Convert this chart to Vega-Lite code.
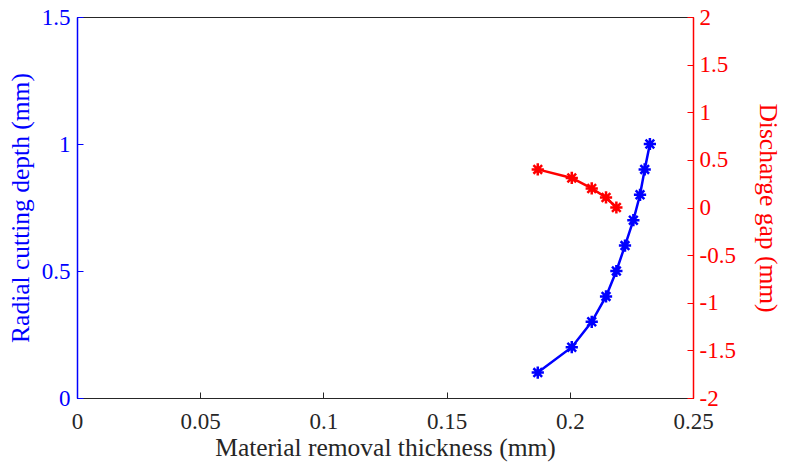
{
  "$schema": "https://vega.github.io/schema/vega-lite/v6.json",
  "width": 616,
  "height": 381,
  "autosize": "none",
  "padding": {"left": 77, "top": 17, "right": 94, "bottom": 70},
  "background": "white",
  "config": {
    "font": "Liberation Serif, Times New Roman, serif",
    "view": {"stroke": "#262626", "strokeWidth": 1},
    "axis": {"grid": false, "labelFont": "Liberation Serif, Times New Roman, serif", "titleFont": "Liberation Serif, Times New Roman, serif", "labelFontSize": 23, "titleFontSize": 25.5, "titleFontWeight": "normal", "tickSize": -6, "labelPadding": 10, "labelFlush": false}
  },
  "datasets": {
    "depth": [
      {"thickness": 0.187, "depth": 0.1},
      {"thickness": 0.2008, "depth": 0.2},
      {"thickness": 0.2089, "depth": 0.3},
      {"thickness": 0.2147, "depth": 0.4},
      {"thickness": 0.2189, "depth": 0.5},
      {"thickness": 0.2224, "depth": 0.6},
      {"thickness": 0.2258, "depth": 0.7},
      {"thickness": 0.2285, "depth": 0.8},
      {"thickness": 0.2304, "depth": 0.9},
      {"thickness": 0.2325, "depth": 1.0}
    ],
    "gap": [
      {"thickness": 0.187, "gap": 0.4},
      {"thickness": 0.2008, "gap": 0.31},
      {"thickness": 0.2089, "gap": 0.2},
      {"thickness": 0.2147, "gap": 0.105},
      {"thickness": 0.2189, "gap": 0.0}
    ]
  },
  "layer": [
    {
      "data": {"name": "depth"},
      "encoding": {
        "x": {"field": "thickness", "type": "quantitative", "scale": {"domain": [0, 0.25], "nice": false, "zero": false},
          "axis": {"title": "Material removal thickness (mm)", "values": [0, 0.05, 0.1, 0.15, 0.2, 0.25], "labelExpr": "'' + datum.value", "labelColor": "#262626", "titleColor": "#262626", "domainColor": "#262626", "tickColor": "#262626", "titlePadding": 2, "labelPadding": 18}},
        "y": {"field": "depth", "type": "quantitative", "scale": {"domain": [0, 1.5], "nice": false, "zero": false},
          "axis": {"orient": "left", "title": "Radial cutting depth (mm)", "values": [0, 0.5, 1, 1.5], "labelExpr": "'' + datum.value", "labelColor": "#0000ff", "titleColor": "#0000ff", "domainColor": "#0000ff", "tickColor": "#0000ff", "domainWidth": 1.5, "titlePadding": 8, "labelPadding": 13}}
      },
      "layer": [
        {"mark": {"type": "line", "color": "#0000ff", "strokeWidth": 2.5}},
        {"mark": {"type": "point", "shape": "M-1,0L1,0M0,-1L0,1M-0.71,-0.71L0.71,0.71M-0.71,0.71L0.71,-0.71", "filled": false, "stroke": "#0000ff", "strokeWidth": 2.5, "size": 150, "opacity": 1}}
      ]
    },
    {
      "data": {"name": "gap"},
      "encoding": {
        "x": {"field": "thickness", "type": "quantitative", "scale": {"domain": [0, 0.25], "nice": false, "zero": false}},
        "y": {"field": "gap", "type": "quantitative", "scale": {"domain": [-2, 2], "nice": false, "zero": false},
          "axis": {"orient": "right", "title": "Discharge gap (mm)", "values": [-2, -1.5, -1, -0.5, 0, 0.5, 1, 1.5, 2], "labelExpr": "'' + datum.value", "labelColor": "#ff0000", "titleColor": "#ff0000", "domainColor": "#ff0000", "tickColor": "#ff0000", "domainWidth": 1.5, "titlePadding": 19, "labelPadding": 12}}
      },
      "layer": [
        {"mark": {"type": "line", "color": "#ff0000", "strokeWidth": 2.5}},
        {"mark": {"type": "point", "shape": "M-1,0L1,0M0,-1L0,1M-0.71,-0.71L0.71,0.71M-0.71,0.71L0.71,-0.71", "filled": false, "stroke": "#ff0000", "strokeWidth": 2.5, "size": 150, "opacity": 1}}
      ]
    }
  ],
  "resolve": {"scale": {"y": "independent"}}
}
